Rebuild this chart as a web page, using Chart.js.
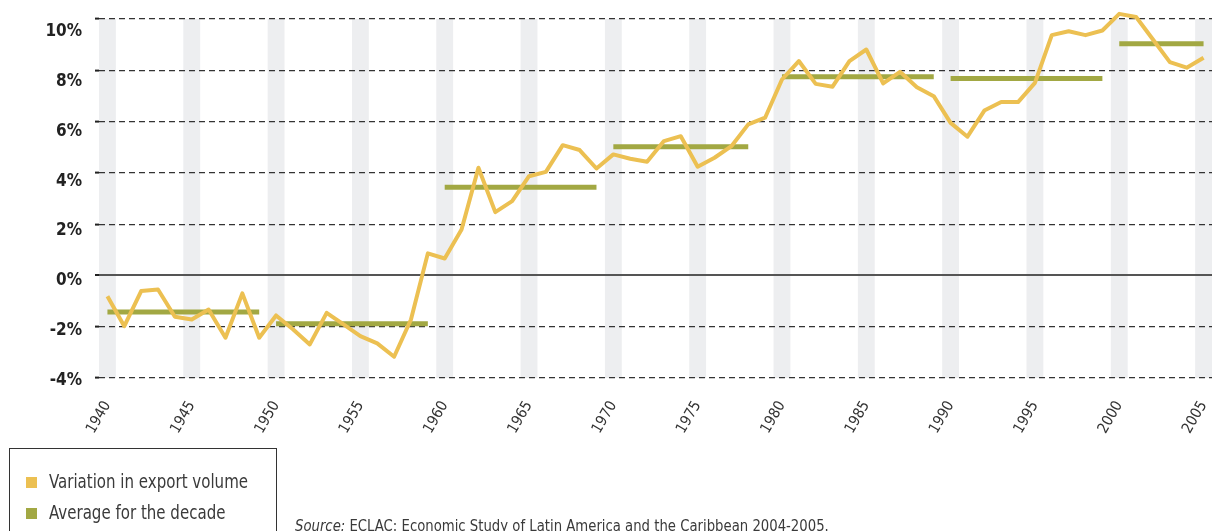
<!DOCTYPE html>
<html>
<head>
<meta charset="utf-8">
<script src="https://cdn.jsdelivr.net/npm/chart.js@4/dist/chart.umd.min.js"></script>
<style>
  html, body { margin: 0; padding: 0; background: #fff; }
  #wrap { position: relative; width: 1212px; height: 531px; overflow: hidden; }
  canvas { position: absolute; left: 0; top: 0; }
  .nar { font-family: 'Liberation Sans Narrow', 'DejaVu Sans Condensed', 'Arial Narrow', sans-serif; }
  #legend { position: absolute; left: 9px; top: 448px; width: 268px; height: 100px;
            border: 1.5px solid #333; box-sizing: border-box; }
  .item { position: absolute; left: 16px; font-size: 19px; color: #3a3a3a; white-space: nowrap; line-height: 20px; }
  .sw { display: inline-block; width: 11px; height: 11px; margin-right: 12px; vertical-align: 0px; }
  .txt { display: inline-block; transform: scaleX(0.88); transform-origin: 0 50%; }
  #source { position: absolute; left: 295px; top: 517px; font-size: 15.5px; color: #3a3a3a; white-space: nowrap;
            transform: scaleX(0.95); transform-origin: 0 50%; }
</style>
</head>
<body>
<div id="wrap">
  <canvas id="c" width="1212" height="531"></canvas>
  <div id="legend" class="nar">
    <div class="item" style="top:22px"><span class="sw" style="background:#ECC052"></span><span class="txt">Variation in export volume</span></div>
    <div class="item" style="top:53px"><span class="sw" style="background:#A2A843"></span><span class="txt">Average for the decade</span></div>
  </div>
  <div id="source" class="nar"><i>Source:</i> ECLAC: Economic Study of Latin America and the Caribbean 2004-2005.</div>
</div>
<script>
const years = [1940,1941,1942,1943,1944,1945,1946,1947,1948,1949,
               1950,1951,1952,1953,1954,1955,1956,1957,1958,1959,
               1960,1961,1962,1963,1964,1965,1966,1967,1968,1969,
               1970,1971,1972,1973,1974,1975,1976,1977,1978,1979,
               1980,1981,1982,1983,1984,1985,1986,1987,1988,1989,
               1990,1991,1992,1993,1994,1995,1996,1997,1998,1999,
               2000,2001,2002,2003,2004,2005];
const exportVariation = [-0.81,-1.98,-0.61,-0.55,-1.61,-1.72,-1.33,-2.43,-0.70,-2.43,
                         -1.56,-2.10,-2.69,-1.46,-1.91,-2.37,-2.65,-3.17,-1.72,0.86,
                         0.66,1.79,4.20,2.47,2.90,3.87,4.04,5.08,4.89,4.17,
                         4.72,4.55,4.43,5.24,5.43,4.24,4.59,5.04,5.89,6.15,
                         7.64,8.36,7.47,7.36,8.36,8.81,7.49,7.94,7.34,6.99,
                         5.95,5.41,6.43,6.76,6.76,7.51,9.37,9.52,9.37,9.55,
                         10.20,10.08,9.20,8.32,8.10,8.49];
const decadeStart = [1940,1950,1960,1970,1980,1990,2000];
const decadeEnd   = [1949,1959,1969,1978,1989,1999,2005];
const decadeAvg   = [-1.43,-1.88,3.44,5.02,7.75,7.68,9.03];
const bandYears   = [1940,1945,1950,1955,1960,1965,1970,1975,1980,1985,1990,1995,2000,2005];
const yTicks      = [-4,-2,0,2,4,6,8,10];

const YELLOW = '#ECC052', GREEN = '#A2A843', BAND = '#EDEEF0';
const FONT = "'Liberation Sans Narrow', 'DejaVu Sans Condensed', 'Arial Narrow', sans-serif";

const datasets = [{
  label: 'Variation in export volume',
  data: exportVariation,
  borderColor: YELLOW,
  borderWidth: 4,
  pointRadius: 0,
  tension: 0,
  clip: false,
  borderJoinStyle: 'round'
}];
decadeAvg.forEach((v, k) => {
  datasets.push({
    label: 'Average for the decade',
    data: years.map(y => (y >= decadeStart[k] && y <= decadeEnd[k]) ? v : null),
    borderColor: GREEN,
    borderWidth: 5,
    borderCapStyle: 'butt',
    pointRadius: 0,
    spanGaps: false,
    clip: false
  });
});

const bandPlugin = {
  id: 'bands',
  beforeDraw(chart) {
    const {ctx, scales: {x, y}} = chart;
    const w = x.width / years.length;
    const top = y.getPixelForValue(10), bot = y.getPixelForValue(-4);
    ctx.save();
    ctx.fillStyle = BAND;
    bandYears.forEach(yr => {
      const cx = x.getPixelForValue(years.indexOf(yr));
      ctx.fillRect(cx - w / 2, top, w, bot - top);
    });
    ctx.restore();
  }
};

new Chart(document.getElementById('c'), {
  type: 'line',
  data: { labels: years.map(String), datasets },
  plugins: [bandPlugin],
  options: {
    responsive: false,
    animation: false,
    events: [],
    layout: { padding: { top: 19, left: 0, right: 0, bottom: 0 } },
    plugins: { legend: { display: false }, tooltip: { enabled: false } },
    scales: {
      x: {
        type: 'category',
        offset: true,
        grid: { display: false, drawTicks: false },
        border: { display: false },
        afterFit(s) { s.height = 153; s.paddingLeft = 0; s.paddingRight = 0; },
        ticks: {
          autoSkip: false,
          minRotation: 60,
          maxRotation: 60,
          padding: 20,
          color: '#333',
          font: { family: FONT, size: 15 },
          callback(val, idx) { return years[idx] % 5 === 0 ? String(years[idx]) : ''; }
        }
      },
      y: {
        min: -4,
        max: 10,
        afterFit(s) {
          s.width = 99; s.paddingTop = 0; s.paddingBottom = 0;
          if (!s._shiftWrapped) {
            const orig = s._computeLabelItems;
            s._computeLabelItems = function (ca) {
              const items = orig.call(this, ca);
              items.forEach((it, i) => {
                const v = this.ticks[i] ? this.ticks[i].value : 0;
                it.options.translation[1] += (v + 4) * 0.72 + 2.5;
              });
              return items;
            };
            s._shiftWrapped = true;
          }
        },
        afterBuildTicks(s) { s.ticks = yTicks.map(v => ({ value: v })); },
        border: {
          display: false,
          dash: ctx => (ctx.tick && ctx.tick.value === 0) ? [] : [6, 4]
        },
        grid: {
          color: ctx => (ctx.tick && ctx.tick.value === 0) ? '#555' : '#333',
          lineWidth: ctx => (ctx.tick && ctx.tick.value === 0) ? 2 : 1.2,
          tickLength: 4,
          tickColor: '#222',
          tickWidth: 2,
          tickBorderDash: []
        },
        ticks: {
          padding: 13,
          color: '#222',
          font: { family: FONT, size: 17, weight: 'bold' },
          callback: v => v + '%'
        }
      }
    }
  }
});
</script>
</body>
</html>
